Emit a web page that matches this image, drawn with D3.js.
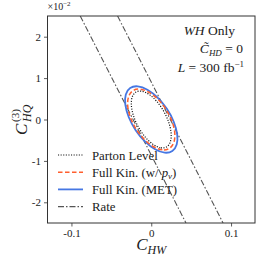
<!DOCTYPE html>
<html>
<head>
<meta charset="utf-8">
<script src="https://cdn.jsdelivr.net/npm/d3@7"></script>
<style>
  body { margin: 0; background: #fff; }
  text { font-family: "Liberation Serif", "DejaVu Serif", serif; }
</style>
</head>
<body>
<div id="chart"></div>
<script>
// contours, [C_HW, C_HQ^(3)]
const partonLevel = [
    [0.01897, -0.00665], [0.01129, -0.00682], [0.00189, -0.00595], [-0.0078, -0.00417],
    [-0.0163, -0.00176], [-0.02231, 0.00092], [-0.02493, 0.00346], [-0.02376, 0.00548],
    [-0.01897, 0.00665], [-0.01129, 0.00682], [-0.00189, 0.00595], [0.0078, 0.00417],
    [0.0163, 0.00176], [0.02231, -0.00092], [0.02493, -0.00346], [0.02376, -0.00548]
];
const fullKinPnu = [
    [0.02283, -0.00697], [0.01388, -0.00733], [0.00281, -0.00658], [-0.00868, -0.00482],
    [-0.01886, -0.00234], [-0.02615, 0.00051], [-0.02948, 0.00328], [-0.02831, 0.00554],
    [-0.02283, 0.00697], [-0.01388, 0.00733], [-0.00281, 0.00658], [0.00868, 0.00482],
    [0.01886, 0.00234], [0.02615, -0.00051], [0.02948, -0.00328], [0.02831, -0.00554]
];
const fullKinMet = [
    [0.0264, -0.00761], [0.01689, -0.00801], [0.00483, -0.00719], [-0.00798, -0.00528],
    [-0.01957, -0.00257], [-0.02817, 0.00054], [-0.0325, 0.00357], [-0.03188, 0.00605],
    [-0.0264, 0.00761], [-0.01689, 0.00801], [-0.00483, 0.00719], [0.00798, 0.00528],
    [0.01957, 0.00257], [0.02817, -0.00054], [0.0325, -0.00357], [0.03188, -0.00605]
];
const rateLow = [[-0.089, 0.025], [0.0435, -0.025]];
const rateHigh = [[-0.0422, 0.025], [0.090, -0.025]];

const xTicks = [-0.1, 0, 0.1];
const yTicks = [-0.02, -0.01, 0, 0.01, 0.02];
const legendLabels = ["Parton Level", "Full Kin. (w/ p_ν)", "Full Kin. (MET)", "Rate"];

const W = 266, H = 266;
const margin = {top: 16, right: 11, bottom: 43, left: 47.5};

const x = d3.scaleLinear().domain([-0.13, 0.13]).range([margin.left, W - margin.right]);
const y = d3.scaleLinear().domain([-0.025, 0.025]).range([H - margin.bottom, margin.top]);

const svg = d3.select("#chart").append("svg")
    .attr("width", W)
    .attr("height", H)
    .style("background", "#fff");

svg.append("clipPath").attr("id", "plotclip")
    .append("rect")
    .attr("x", x(-0.13)).attr("y", y(0.025))
    .attr("width", x(0.13) - x(-0.13))
    .attr("height", y(-0.025) - y(0.025));

const plot = svg.append("g").attr("clip-path", "url(#plotclip)");

const styles = {
    parton: {color: "#111", width: 1.2, dash: "1.1,1.5"},
    pnu: {color: "#ff5f2e", width: 1.5, dash: "4.5,2.5"},
    met: {color: "#4677e3", width: 1.8, dash: null},
    rate: {color: "#555", width: 1.1, dash: "6,2,1.5,2"}
};

let straight = d3.line().x(d => x(d[0])).y(d => y(d[1]));
let closed = d3.line().x(d => x(d[0])).y(d => y(d[1])).curve(d3.curveCardinalClosed.tension(0));

[rateLow, rateHigh].forEach(function (pts) {
    plot.append("path")
        .attr("d", straight(pts))
        .attr("fill", "none")
        .attr("stroke", styles.rate.color)
        .attr("stroke-width", styles.rate.width)
        .attr("stroke-dasharray", styles.rate.dash);
});

[[fullKinMet, styles.met], [fullKinPnu, styles.pnu], [partonLevel, styles.parton]].forEach(function (c) {
    plot.append("path")
        .attr("d", closed(c[0]))
        .attr("fill", "none")
        .attr("stroke", c[1].color)
        .attr("stroke-width", c[1].width)
        .attr("stroke-dasharray", c[1].dash);
});

// axes
let xAxis = svg.append("g")
    .attr("transform", "translate(0," + (H - margin.bottom) + ")")
    .call(d3.axisBottom(x).tickValues(xTicks).tickSize(3.5).tickPadding(3)
        .tickFormat(d => d === 0 ? "0" : d3.format(".1f")(d).replace("−", "-")));
let yAxis = svg.append("g")
    .attr("transform", "translate(" + margin.left + ",0)")
    .call(d3.axisLeft(y).tickValues(yTicks).tickSize(3.5).tickPadding(3)
        .tickFormat(d => String(Math.round(d * 100))));

[xAxis, yAxis].forEach(function (a) {
    a.select(".domain").remove();
    a.selectAll(".tick line").attr("stroke", "#333").attr("stroke-width", 0.8);
    a.selectAll(".tick text")
        .attr("fill", "#222")
        .style("font-size", "11px")
        .style("font-family", "'Liberation Serif', serif");
});

svg.append("rect")
    .attr("x", x(-0.13)).attr("y", y(0.025))
    .attr("width", x(0.13) - x(-0.13))
    .attr("height", y(-0.025) - y(0.025))
    .attr("fill", "none")
    .attr("stroke", "#333")
    .attr("stroke-width", 1);

// offset text
let off = svg.append("text").attr("x", margin.left).attr("y", 10)
    .style("font-size", "10px").attr("fill", "#222");
off.append("tspan").text("×10");
off.append("tspan").attr("dy", -4).style("font-size", "7px").text("−2");

// x label
let xl = svg.append("text")
    .attr("x", (x(-0.13) + x(0.13)) / 2)
    .attr("y", 250)
    .attr("text-anchor", "middle")
    .style("font-size", "17px").attr("fill", "#222");
xl.append("tspan").style("font-style", "italic").text("C");
xl.append("tspan").attr("dy", 4).style("font-size", "12px").style("font-style", "italic").text("HW");

// y label
let yl = svg.append("g").attr("transform", "translate(27," + 118 + ") rotate(-90)");
yl.append("text").attr("x", -17).attr("y", 0)
    .style("font-size", "17px").style("font-style", "italic").attr("fill", "#222").text("C");
yl.append("text").attr("x", -4).attr("y", 4)
    .style("font-size", "12px").style("font-style", "italic").attr("fill", "#222").text("HQ");
yl.append("text").attr("x", -4).attr("y", -8)
    .style("font-size", "11px").attr("fill", "#222").text("(3)");

// annotation
let ann = svg.append("g").attr("fill", "#222").style("font-size", "13.5px");
let a1 = ann.append("text").attr("x", 235).attr("y", 35).attr("text-anchor", "end");
a1.append("tspan").style("font-style", "italic").text("WH");
a1.append("tspan").text(" Only");
let a2 = ann.append("text").attr("x", 243).attr("y", 53).attr("text-anchor", "end");
a2.append("tspan").style("font-style", "italic").text("C\u0303");
a2.append("tspan").attr("dy", 3).style("font-size", "9px").style("font-style", "italic").text("HD");
a2.append("tspan").attr("dy", -3).text(" = 0");
let a3 = ann.append("text").attr("x", 244).attr("y", 72).attr("text-anchor", "end");
a3.append("tspan").style("font-style", "italic").text("L");
a3.append("tspan").text(" = 300 fb");
a3.append("tspan").attr("dy", -5).style("font-size", "9px").text("−1");

// legend
const legendStyles = [styles.parton, styles.pnu, styles.met, styles.rate];
let leg = svg.append("g");
legendLabels.forEach(function (lab, i) {
    let ly = 155 + i * 17.2;
    let st = legendStyles[i];
    leg.append("line")
        .attr("x1", 58).attr("x2", 83).attr("y1", ly).attr("y2", ly)
        .attr("stroke", st.color).attr("stroke-width", st.width)
        .attr("stroke-dasharray", st.dash);
    let t = leg.append("text").attr("x", 92).attr("y", ly + 4.5)
        .style("font-size", "12.8px").attr("fill", "#222");
    if (lab.indexOf("p_ν") >= 0) {
        t.append("tspan").text("Full Kin. (w/ ");
        t.append("tspan").style("font-style", "italic").text("p");
        t.append("tspan").attr("dy", 2.5).style("font-size", "9px").style("font-style", "italic").text("ν");
        t.append("tspan").attr("dy", -2.5).text(")");
    } else {
        t.text(lab);
    }
});
</script>
</body>
</html>
